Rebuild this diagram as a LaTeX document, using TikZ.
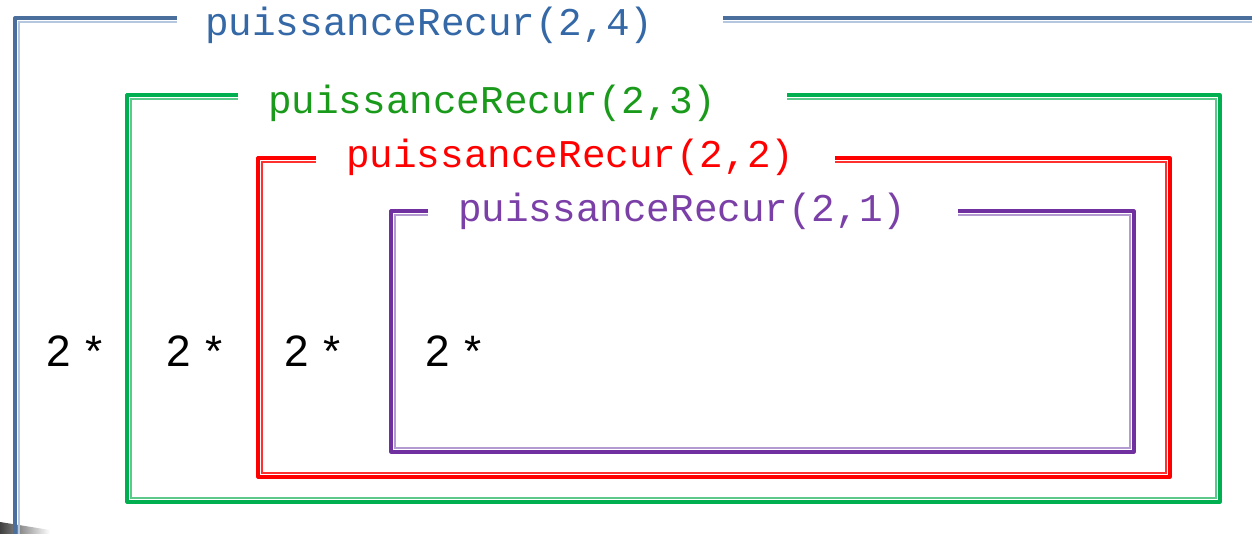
\documentclass[tikz,border=0pt]{standalone}
\usepackage{fontspec}
\setmainfont{Liberation Sans}
\newfontfamily\codefont{Liberation Mono}
\definecolor{bluethick}{HTML}{4A6F9C}
\definecolor{bluethin}{HTML}{B4C7DF}
\definecolor{bluetext}{HTML}{3468A6}
\definecolor{greenthick}{HTML}{00B050}
\definecolor{greenthin}{HTML}{5CC98A}
\definecolor{greentext}{HTML}{1A9A1A}
\definecolor{redthick}{HTML}{FF0000}
\definecolor{redthin}{HTML}{FF3030}
\definecolor{redtext}{HTML}{FF0000}
\definecolor{purplethick}{HTML}{7030A0}
\definecolor{purplethin}{HTML}{B39AD0}
\definecolor{purpletext}{HTML}{7B3FA8}
\newcommand\nestbox[8]{%
  \draw[line width=3.2pt,#1,line join=round] (#7,#4) -- (#3,#4) -- (#3,#6) -- (#5,#6) -- (#5,#4) -- (#8,#4);
  \draw[line width=1.6pt,#2] (#7,#4+4) -- (#3+4,#4+4) -- (#3+4,#6-4) -- (#5-4,#6-4) -- (#5-4,#4+4) -- (#8,#4+4);
}
\begin{document}
\begin{tikzpicture}[x=1pt,y=-1pt,
  title/.style={anchor=base west,inner sep=0pt,font=\codefont\fontsize{39.3}{42}\selectfont},
  factor/.style={anchor=base west,inner sep=0pt,font=\fontsize{44}{50}\selectfont}]
\useasboundingbox (0,0) rectangle (1252,534);
\fill[white] (0,0) rectangle (1252,534);
\clip (0,0) rectangle (1252,534);
\shade[left color=black!75,right color=white] (0,522) -- (50,530) -- (50,534) -- (0,534) -- cycle;
% boxes
\nestbox{bluethick}{bluethin}{15}{18}{1270}{560}{177}{723}
\nestbox{greenthick}{greenthin}{127}{95}{1220}{502}{238}{787}
\nestbox{redthick}{redthin}{258}{158}{1170}{477}{316}{835}
\nestbox{purplethick}{purplethin}{391}{211}{1134}{452}{428}{958}
% titles
\node[title,text=bluetext] (t4) at (205,36) {puissanceRecur(2,4)};
\node[title,text=greentext] (t3) at (268,114) {puissanceRecur(2,3)};
\node[title,text=redtext] (t2) at (346,168) {puissanceRecur(2,2)};
\node[title,text=purpletext] (t1) at (458,222) {puissanceRecur(2,1)};
% factors
\node[factor] (f4) at (46,366) {2\hskip0.33em*};
\node[factor] (f3) at (166,366) {2\hskip0.33em*};
\node[factor] (f2) at (284,366) {2\hskip0.33em*};
\node[factor] (f1) at (425,366) {2\hskip0.33em*};
\end{tikzpicture}
\end{document}
